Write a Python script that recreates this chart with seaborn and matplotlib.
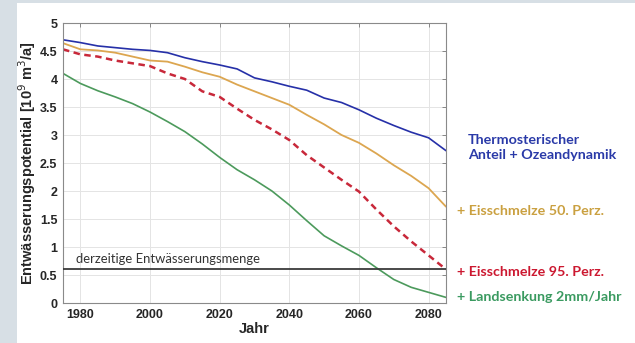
import matplotlib
matplotlib.use("Agg")
import matplotlib.pyplot as plt
from matplotlib.patches import Rectangle
from matplotlib.ticker import FuncFormatter, MultipleLocator
import numpy as np
import pandas as pd
import seaborn as sns

# Years and drainage potential (10^9 m^3/a) per scenario
years = [1975, 1980, 1985, 1990, 1995, 2000, 2005, 2010, 2015, 2020, 2025, 2030,
         2035, 2040, 2045, 2050, 2055, 2060, 2065, 2070, 2075, 2080, 2085]
thermo = [4.70, 4.65, 4.59, 4.56, 4.53, 4.51, 4.47, 4.38, 4.31, 4.25, 4.18, 4.02,
          3.95, 3.87, 3.80, 3.66, 3.58, 3.45, 3.30, 3.17, 3.05, 2.95, 2.72]
eis50 = [4.64, 4.53, 4.51, 4.47, 4.40, 4.33, 4.31, 4.22, 4.12, 4.04, 3.90, 3.78,
         3.66, 3.54, 3.36, 3.19, 3.00, 2.86, 2.67, 2.46, 2.27, 2.05, 1.72]
eis95 = [4.53, 4.44, 4.40, 4.33, 4.28, 4.23, 4.10, 4.00, 3.78, 3.68, 3.47, 3.27,
         3.10, 2.91, 2.64, 2.42, 2.20, 1.99, 1.67, 1.37, 1.10, 0.85, 0.60]
landsenkung = [4.10, 3.92, 3.79, 3.68, 3.56, 3.41, 3.24, 3.06, 2.84, 2.60, 2.38, 2.20,
               2.00, 1.75, 1.47, 1.20, 1.02, 0.85, 0.63, 0.42, 0.28, 0.19, 0.10]
current_level = 0.6
current_label = "derzeitige Entwässerungsmenge"

series_labels = ["Thermosterischer\nAnteil + Ozeandynamik",
                 "+ Eisschmelze 50. Perz.",
                 "+ Eisschmelze 95. Perz.",
                 "+ Landsenkung 2mm/Jahr"]
line_colors = ["#2630a8", "#dca650", "#c8283a", "#4c9a5c"]
text_colors = ["#2a3aa8", "#caa040", "#cc1830", "#3a9a60"]
label_y = [2.78, 1.65, 0.55, 0.1]

sns.set_theme(style="whitegrid")
plt.rcParams["font.family"] = ["Liberation Sans", "DejaVu Sans"]

fig = plt.figure(figsize=(6.35, 3.43), dpi=100)
fig.patch.set_facecolor("white")
# frame strips along the left and top edge
fig.add_artist(Rectangle((0, 0), 17 / 635, 1, transform=fig.transFigure,
                         facecolor="#d7dfe5", edgecolor="none", zorder=0))
fig.add_artist(Rectangle((0, 1 - 2.5 / 343), 1, 2.5 / 343, transform=fig.transFigure,
                         facecolor="#d7dfe5", edgecolor="none", zorder=0))

ax = fig.add_axes([63 / 635, 1 - 303 / 343, (446 - 63) / 635, (303 - 23) / 343])
ax.set_facecolor("white")

df = pd.DataFrame({"Jahr": years, "thermo": thermo, "eis50": eis50,
                   "eis95": eis95, "land": landsenkung})

sns.lineplot(data=df, x="Jahr", y="thermo", ax=ax, color=line_colors[0], lw=1.2)
sns.lineplot(data=df, x="Jahr", y="eis50", ax=ax, color=line_colors[1], lw=1.3)
sns.lineplot(data=df, x="Jahr", y="eis95", ax=ax, color=line_colors[2], lw=1.8,
             dashes=False, linestyle=(0, (2.6, 1.8)))
sns.lineplot(data=df, x="Jahr", y="land", ax=ax, color=line_colors[3], lw=1.2)

ax.axhline(current_level, color="#3a3a3a", lw=1.3, zorder=3)
ax.text(1978.6, current_level + 0.07, current_label, fontsize=9.4,
        family=["Lato", "DejaVu Sans"], color="#333333", va="bottom", ha="left")

ax.set_xlim(1975, 2085)
ax.set_ylim(0, 5)
ax.xaxis.set_major_locator(MultipleLocator(20))
ax.yaxis.set_major_locator(MultipleLocator(0.5))
ax.yaxis.set_major_formatter(FuncFormatter(lambda v, p: f"{v:g}"))

ax.grid(True, color="#e4e4e4", lw=0.7)
for s in ax.spines.values():
    s.set_visible(True)
    s.set_color("#8a8a8a")
    s.set_linewidth(0.8)
ax.tick_params(axis="both", which="major", direction="in", length=3, width=0.6,
               color="#777777", top=True, right=True, labelsize=9,
               labelcolor="#262626", pad=4)
for lab in ax.get_xticklabels() + ax.get_yticklabels():
    lab.set_fontweight("bold")

ax.set_xlabel("Jahr", fontsize=10.5, fontweight="bold", color="#262626", labelpad=1)
ax.set_ylabel("Entwässerungspotential [10$^9$ m$^3$/a]", fontsize=10.5,
              fontweight="bold", color="#262626", labelpad=1)

# series names to the right of the plot
for txt, col, yv in zip(series_labels, text_colors, label_y):
    ax.text(1.03 if not txt.startswith("Thermo") else 1.058, yv, txt,
            transform=ax.get_yaxis_transform(), fontsize=10.3,
            family=["Lato", "DejaVu Sans"], fontweight="bold", color=col,
            va="center", ha="left", linespacing=1.35)

fig.savefig("out.png", dpi=100, facecolor=fig.get_facecolor())
